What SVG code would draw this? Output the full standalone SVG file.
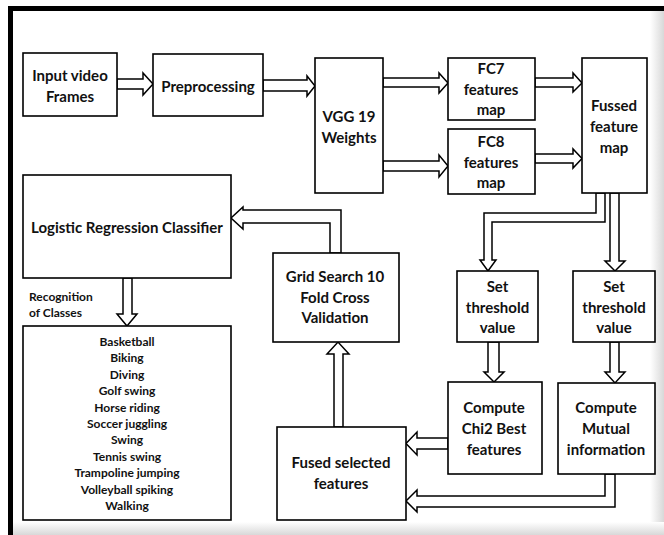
<svg xmlns="http://www.w3.org/2000/svg" width="664" height="535" viewBox="0 0 664 535">
<defs>
<linearGradient id="shR" x1="0" y1="0" x2="1" y2="0">
<stop offset="0" stop-color="#ffffff"/>
<stop offset="1" stop-color="#d8d8d8"/>
</linearGradient>
<linearGradient id="shB" x1="0" y1="0" x2="0" y2="1">
<stop offset="0" stop-color="#ffffff"/>
<stop offset="1" stop-color="#d8d8d8"/>
</linearGradient>
<style>
.box{fill:#fff;stroke:#000;stroke-width:1.6}
.arr{fill:#fff;stroke:#000;stroke-width:1.5;stroke-linejoin:miter}
text{font-family:Lato,"Open Sans","Liberation Sans",sans-serif;font-weight:700;fill:#111;text-anchor:middle}
.t{font-size:15px}
.s{font-size:12px}
.l{text-anchor:start}
</style>
</defs>
<rect width="664" height="535" fill="#fff"/>
<rect x="650" y="11" width="14" height="524" fill="url(#shR)"/>
<rect x="13" y="522" width="651" height="13" fill="url(#shB)"/>
<rect x="8" y="6" width="656" height="5" fill="#000"/>
<rect x="8" y="6" width="5" height="529" fill="#000"/>

<g id="connectors">
<polygon class="arr" points="117,79 143,79 143,73 153,84 143,95 143,89 117,89"/>
<polygon class="arr" points="263,80 307,80 307,76 315,86 307,96 307,91 263,91"/>
<polygon class="arr" points="383,78 439,78 439,73 448,83 439,93 439,87 383,87"/>
<polygon class="arr" points="383,161 439,161 439,155 448,166 439,177 439,171 383,171"/>
<polygon class="arr" points="535,78 573,78 573,73 582,83 573,92 573,87 535,87"/>
<polygon class="arr" points="535,154 573,154 573,149 582,158.5 573,168 573,163 535,163"/>
<polygon class="arr" points="596,193 596,213 484,213 484,260 480,260 488,271 496,260 492,260 492,222 605,222 605,193"/>
<polygon class="arr" points="610,193 610,261 605,261 615,271 625,261 619,261 619,193"/>
<polygon class="arr" points="488,342 488,372 484,372 494,382 504,372 499,372 499,342"/>
<polygon class="arr" points="610,342 610,372 605,372 615,383 625,372 619,372 619,342"/>
<polygon class="arr" points="448,438 417,438 417,432 406,443.5 417,455 417,449 448,449"/>
<polygon class="arr" points="605,474 605,496 417,496 417,490 406,501 417,512 417,507 615,507 615,474"/>
<polygon class="arr" points="334,427 334,354 327,354 338,342 349,354 343,354 343,427"/>
<polygon class="arr" points="330,253 330,223 243,223 243,229 231,218 243,207 243,210 341,210 341,253"/>
<polygon class="arr" points="123,278 123,314 117,314 127,326 137,314 132,314 132,278"/>
</g>

<g id="input">
<rect class="box" x="23" y="53" width="94" height="63"/>
<text class="t" x="70" y="81">Input video</text>
<text class="t" x="70" y="102">Frames</text>
</g>
<g id="preprocessing">
<rect class="box" x="153" y="54" width="110" height="62"/>
<text class="t" x="208" y="92">Preprocessing</text>
</g>
<g id="vgg">
<rect class="box" x="315" y="58" width="68" height="135"/>
<text class="t" x="349" y="122">VGG 19</text>
<text class="t" x="349" y="143">Weights</text>
</g>
<g id="fc7">
<rect class="box" x="448" y="58" width="87" height="62"/>
<text class="t" x="491" y="74">FC7</text>
<text class="t" x="491" y="95">features</text>
<text class="t" x="491" y="115">map</text>
</g>
<g id="fc8">
<rect class="box" x="448" y="129" width="87" height="65"/>
<text class="t" x="491" y="147">FC8</text>
<text class="t" x="491" y="168">features</text>
<text class="t" x="491" y="188">map</text>
</g>
<g id="fussed">
<rect class="box" x="582" y="58" width="65" height="135"/>
<text class="t" x="614" y="111">Fussed</text>
<text class="t" x="614" y="132">feature</text>
<text class="t" x="614" y="153">map</text>
</g>
<g id="logistic">
<rect class="box" x="23" y="175" width="208" height="103"/>
<text class="t" x="127" y="233">Logistic Regression Classifier</text>
</g>
<g id="recognition-label">
<text class="s l" x="29" y="301">Recognition</text>
<text class="s l" x="29" y="317">of Classes</text>
</g>
<g id="classes">
<rect class="box" x="23" y="326" width="208" height="194"/>
<text class="s" x="127" y="346">Basketball</text>
<text class="s" x="127" y="362.4">Biking</text>
<text class="s" x="127" y="378.8">Diving</text>
<text class="s" x="127" y="395.2">Golf swing</text>
<text class="s" x="127" y="411.6">Horse riding</text>
<text class="s" x="127" y="428">Soccer juggling</text>
<text class="s" x="127" y="444.4">Swing</text>
<text class="s" x="127" y="460.8">Tennis swing</text>
<text class="s" x="127" y="477.2">Trampoline jumping</text>
<text class="s" x="127" y="493.6">Volleyball spiking</text>
<text class="s" x="127" y="510">Walking</text>
</g>
<g id="gridsearch">
<rect class="box" x="273" y="253" width="126" height="89"/>
<text class="t" x="335" y="282">Grid Search 10</text>
<text class="t" x="335" y="303">Fold Cross</text>
<text class="t" x="335" y="323">Validation</text>
</g>
<g id="threshold1">
<rect class="box" x="457" y="271" width="81" height="71"/>
<text class="t" x="497.5" y="292">Set</text>
<text class="t" x="497.5" y="313">threshold</text>
<text class="t" x="497.5" y="333">value</text>
</g>
<g id="threshold2">
<rect class="box" x="573" y="271" width="82" height="71"/>
<text class="t" x="614" y="292">Set</text>
<text class="t" x="614" y="313">threshold</text>
<text class="t" x="614" y="333">value</text>
</g>
<g id="chi2">
<rect class="box" x="448" y="382" width="94" height="92"/>
<text class="t" x="494" y="413">Compute</text>
<text class="t" x="494" y="434">Chi2 Best</text>
<text class="t" x="494" y="455">features</text>
</g>
<g id="mutual">
<rect class="box" x="558" y="383" width="97" height="91"/>
<text class="t" x="606" y="413">Compute</text>
<text class="t" x="606" y="434">Mutual</text>
<text class="t" x="606" y="455">information</text>
</g>
<g id="fusedselected">
<rect class="box" x="277" y="427" width="129" height="93"/>
<text class="t" x="341" y="468">Fused selected</text>
<text class="t" x="341" y="489">features</text>
</g>
</svg>
